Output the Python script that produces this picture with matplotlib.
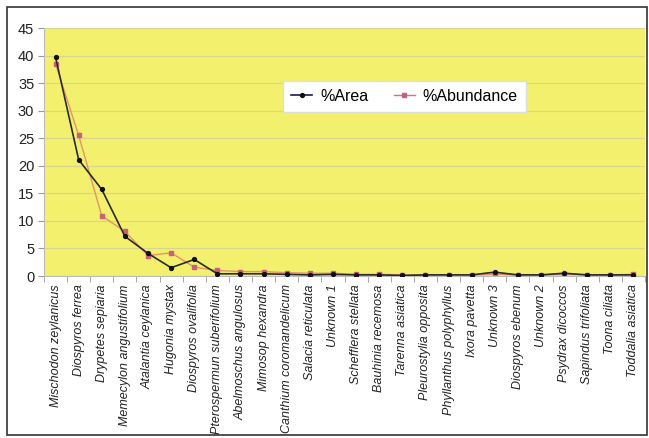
import matplotlib
matplotlib.use("Agg")
import matplotlib.pyplot as plt
from matplotlib.patches import Rectangle
import numpy as np

species = ["Mischodon zeylanicus", "Diospyros ferrea", "Drypetes sepiaria",
           "Memecylon angustifolium", "Atalantia ceylanica", "Hugonia mystax",
           "Diospyros ovalifolia", "Pterospermun suberifolium", "Abelmoschus angulosus",
           "Mimosop hexandra", "Canthium coromandelicum", "Salacia reticulata",
           "Unknown 1", "Schefflera stellata", "Bauhinia recemosa", "Tarenna asiatica",
           "Pleurostylia opposita", "Phyllanthus polyphyllus", "Ixora pavetta",
           "Unknown 3", "Diospyros ebenum", "Unknown 2", "Psydrax dicoccos",
           "Sapindus trifoliata", "Toona ciliata", "Toddalia asiatica"]
area = [39.7, 21.1, 15.7, 7.2, 4.1, 1.5, 3.0, 0.4, 0.4, 0.4, 0.3, 0.2, 0.3,
        0.2, 0.2, 0.1, 0.2, 0.2, 0.2, 0.7, 0.2, 0.2, 0.5, 0.2, 0.2, 0.2]
abundance = [38.5, 25.5, 10.9, 8.1, 3.7, 4.2, 1.6, 1.0, 0.8, 0.8, 0.6, 0.5, 0.5,
             0.3, 0.3, 0.2, 0.2, 0.2, 0.2, 0.3, 0.2, 0.2, 0.3, 0.2, 0.2, 0.3]
yticks = [0, 5, 10, 15, 20, 25, 30, 35, 40, 45]

plt.rcParams['font.family'] = ['Liberation Sans', 'DejaVu Sans']
W, H = 649, 438
fig = plt.figure(figsize=(W / 100, H / 100), dpi=100)
fig.patch.set_facecolor('white')
fig.add_artist(Rectangle((7 / W, 3 / H), 640 / W, 428 / H, transform=fig.transFigure,
                         fill=False, edgecolor='#333333', linewidth=1.2))

ax = fig.add_axes([44 / W, 1 - 276 / H, 601 / W, 248 / H])
ax.set_facecolor('#F3F06E')
x = np.arange(len(species))
ax.plot(x, area, color='#2a2a2a', linewidth=1.2, marker='o', markersize=2.8,
        markerfacecolor='#111111', markeredgecolor='#111111', label='%Area', zorder=3)
ax.plot(x, abundance, color='#E0956A', linewidth=1.0, marker='s', markersize=2.8,
        markerfacecolor='#C8607A', markeredgecolor='#C8607A', label='%Abundance', zorder=2)

ax.set_xlim(-0.5, len(species) - 0.5)
ax.set_ylim(0, 45)
ax.set_yticks(yticks)
ax.set_yticklabels([str(v) for v in yticks], fontsize=10.5, color='#222222')
ax.yaxis.grid(True, color='#D8D68A', linewidth=0.8)
ax.set_axisbelow(True)

ax.set_xticks(x)
ax.set_xticklabels(species, rotation=90, fontsize=9, style='italic', color='#222222')
ax.set_xticks(np.arange(len(species) + 1) - 0.5, minor=True)
ax.tick_params(axis='x', which='major', length=0, pad=6)
ax.tick_params(axis='x', which='minor', length=4, color='#999999')
ax.tick_params(axis='y', length=4, color='#999999', pad=3)
for s in ['top', 'right']:
    ax.spines[s].set_visible(False)
ax.spines['left'].set_color('#BBBBBB')
ax.spines['bottom'].set_color('#BBBBBB')

leg = ax.legend(loc='center', bbox_to_anchor=(0.60, 0.725), ncol=2, fontsize=11.5,
                frameon=True, fancybox=False, framealpha=1, edgecolor='#DDDDDD',
                handlelength=1.3, columnspacing=1.6, borderpad=0.5, handletextpad=0.5)
leg.get_lines()[0].set_color('#1a1a55')
leg.get_lines()[1].set_color('#D07090')

fig.savefig('out.png', dpi=100)
